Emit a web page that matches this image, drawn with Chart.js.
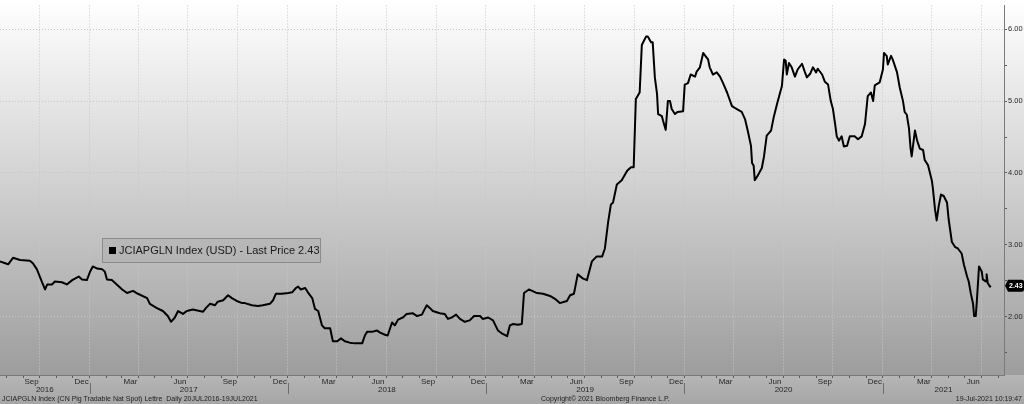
<!DOCTYPE html>
<html>
<head>
<meta charset="utf-8">
<script src="https://cdn.jsdelivr.net/npm/chart.js@4.4.1/dist/chart.umd.min.js"></script>
<style>
  html, body { margin: 0; padding: 0; background: #a8a8a8; }
  #wrap { position: relative; width: 1024px; height: 404px; overflow: hidden; font-family: 'Liberation Sans', Arial, sans-serif; }
  #chart { position: absolute; left: 0; top: 0; }
  .legend-box {
    position: absolute; left: 102px; top: 238px; width: 219px; height: 25px;
    box-sizing: border-box; border: 1px solid #8c8c8c; background: rgba(170, 170, 170, 0.45);
    font-size: 11px; line-height: 23px; color: #1a1a1a; padding-left: 6px; white-space: nowrap;
  }
  .legend-box .sw { display: inline-block; width: 7px; height: 7px; background: #000; margin-right: 3px; }
  .foot { position: absolute; top: 394px; font-size: 7px; line-height: 10px; color: #1e1e1e; white-space: nowrap; }
</style>
</head>
<body>
<div id="wrap">
  <canvas id="chart" width="1024" height="404"></canvas>
  <div class="legend-box"><span class="sw"></span>JCIAPGLN Index (USD) - Last Price 2.43</div>
  <div class="foot" style="left:2px">JCIAPGLN Index (CN Pig Tradable Nat Spot) Lettre&nbsp; Daily 20JUL2016-19JUL2021</div>
  <div class="foot" style="left:541px">Copyright© 2021 Bloomberg Finance L.P.</div>
  <div class="foot" style="right:2px">19-Jul-2021 10:19:47</div>
</div>
<script>
// JCIAPGLN price, USD
const dates = [
  '2016-07-20','2016-08-04','2016-08-13','2016-08-26','2016-09-13','2016-09-19','2016-09-26','2016-10-05','2016-10-11','2016-10-15',
  '2016-10-24','2016-10-29','2016-11-11','2016-11-20','2016-11-30','2016-12-05','2016-12-12','2016-12-18','2016-12-27',
  '2017-01-02','2017-01-07','2017-01-15','2017-01-24','2017-01-29','2017-02-02','2017-02-11','2017-02-20','2017-03-02','2017-03-11',
  '2017-03-22','2017-03-31','2017-04-17','2017-04-22','2017-05-05','2017-05-16','2017-05-25','2017-05-31','2017-06-07','2017-06-13',
  '2017-06-22','2017-06-29','2017-07-10','2017-07-29','2017-08-03','2017-08-11','2017-08-20','2017-08-25','2017-09-04','2017-09-13',
  '2017-09-20','2017-09-29','2017-10-09','2017-10-14','2017-10-27','2017-11-07','2017-11-16','2017-11-29','2017-12-05','2017-12-10','2017-12-21',
  '2018-01-02','2018-01-09','2018-01-16','2018-01-20','2018-01-25','2018-02-02','2018-02-07','2018-02-15','2018-02-20','2018-02-26',
  '2018-03-05','2018-03-10','2018-03-20','2018-03-25','2018-04-02','2018-04-09','2018-04-16','2018-04-25','2018-05-05','2018-05-18',
  '2018-05-23','2018-05-27','2018-06-05','2018-06-14','2018-06-20','2018-06-29','2018-07-04','2018-07-12','2018-07-17','2018-07-23',
  '2018-08-01','2018-08-08','2018-08-19','2018-08-27','2018-09-05','2018-09-11','2018-09-14','2018-09-20','2018-09-25','2018-10-08',
  '2018-10-17','2018-10-23','2018-10-30','2018-11-07','2018-11-14','2018-11-23','2018-12-02','2018-12-10','2018-12-21','2018-12-26',
  '2019-01-05','2019-01-14','2019-01-23','2019-01-30','2019-02-09','2019-02-14','2019-02-20','2019-03-01','2019-03-08','2019-03-12',
  '2019-03-21','2019-04-05','2019-04-16','2019-04-29','2019-05-08','2019-05-17','2019-05-30','2019-06-05','2019-06-12','2019-06-19',
  '2019-06-29','2019-07-06','2019-07-15','2019-07-24','2019-08-03','2019-08-08','2019-08-14','2019-08-19','2019-08-23','2019-08-30',
  '2019-09-08','2019-09-18','2019-09-25','2019-09-30','2019-10-04','2019-10-11','2019-10-15','2019-10-23','2019-10-26','2019-11-01',
  '2019-11-04','2019-11-08','2019-11-12','2019-11-14','2019-11-21','2019-11-23','2019-11-28','2019-12-02','2019-12-06','2019-12-09',
  '2019-12-15','2019-12-20','2019-12-30',
  '2020-01-02','2020-01-08','2020-01-13','2020-01-21','2020-01-24','2020-01-30','2020-02-05','2020-02-10','2020-02-14','2020-02-17',
  '2020-02-23','2020-03-01','2020-03-07','2020-03-12','2020-03-20','2020-03-29','2020-04-07','2020-04-16','2020-04-22','2020-04-27',
  '2020-05-03','2020-05-05','2020-05-08','2020-05-10','2020-05-16','2020-05-23','2020-05-27','2020-06-01','2020-06-09','2020-06-14',
  '2020-06-20','2020-06-29','2020-07-03','2020-07-06','2020-07-08','2020-07-12','2020-07-17','2020-07-23','2020-07-28','2020-08-05',
  '2020-08-10','2020-08-14','2020-08-20','2020-08-25','2020-08-31','2020-09-03','2020-09-11','2020-09-16','2020-09-22','2020-09-27',
  '2020-10-01','2020-10-05','2020-10-08','2020-10-12','2020-10-17','2020-10-21','2020-10-27','2020-11-01','2020-11-10','2020-11-16',
  '2020-11-23','2020-11-29','2020-12-04','2020-12-10','2020-12-14','2020-12-17','2020-12-26',
  '2021-01-01','2021-01-03','2021-01-08','2021-01-10','2021-01-16','2021-01-19','2021-01-27','2021-02-01','2021-02-07','2021-02-10',
  '2021-02-14','2021-02-18','2021-02-21','2021-02-23','2021-03-01','2021-03-05','2021-03-10','2021-03-16','2021-03-19','2021-03-25',
  '2021-04-01','2021-04-03','2021-04-07','2021-04-10','2021-04-14','2021-04-18','2021-04-23','2021-04-29','2021-05-02','2021-05-08',
  '2021-05-14','2021-05-19','2021-05-26','2021-05-30','2021-06-05','2021-06-08','2021-06-12','2021-06-16','2021-06-18','2021-06-21',
  '2021-06-23','2021-06-27','2021-07-02','2021-07-04','2021-07-10','2021-07-11','2021-07-13','2021-07-17','2021-07-19'
];
const prices = [
  2.77,2.73,2.82,2.79,2.78,2.74,2.66,2.49,2.38,2.45,
  2.45,2.49,2.48,2.45,2.51,2.53,2.56,2.52,2.51,
  2.63,2.70,2.67,2.66,2.63,2.52,2.51,2.45,2.38,2.33,
  2.36,2.32,2.26,2.18,2.12,2.08,2.01,1.93,1.99,2.08,
  2.04,2.08,2.10,2.07,2.12,2.18,2.16,2.21,2.23,2.30,
  2.26,2.22,2.19,2.19,2.16,2.15,2.16,2.18,2.23,2.32,2.32,
  2.33,2.34,2.40,2.42,2.38,2.40,2.34,2.26,2.11,2.08,
  1.88,1.84,1.84,1.66,1.66,1.70,1.66,1.64,1.63,1.63,
  1.74,1.79,1.79,1.81,1.78,1.75,1.74,1.92,1.88,1.96,
  1.99,2.04,2.05,2.01,2.03,2.12,2.16,2.12,2.08,2.05,
  2.04,1.97,1.99,2.03,1.97,1.93,1.95,2.01,2.01,1.97,
  1.99,1.95,1.81,1.77,1.73,1.88,1.90,1.89,1.90,2.33,
  2.38,2.33,2.32,2.29,2.25,2.19,2.22,2.30,2.32,2.59,
  2.53,2.51,2.77,2.84,2.84,2.95,3.32,3.56,3.59,3.84,
  3.90,4.03,4.08,4.08,5.03,5.12,5.78,5.90,5.90,5.82,
  5.82,5.33,5.10,4.82,4.79,4.73,4.60,5.00,5.00,4.89,
  4.82,4.85,4.86,
  5.23,5.25,5.37,5.34,5.41,5.47,5.67,5.62,5.58,5.47,
  5.37,5.40,5.34,5.26,5.12,4.93,4.89,4.85,4.75,4.59,
  4.38,4.14,4.10,3.90,3.97,4.07,4.23,4.52,4.59,4.78,
  4.96,5.21,5.58,5.56,5.37,5.53,5.47,5.34,5.44,5.52,
  5.41,5.33,5.38,5.47,5.40,5.45,5.37,5.27,5.23,5.00,
  4.89,4.68,4.51,4.45,4.51,4.37,4.38,4.51,4.51,4.47,
  4.51,4.68,5.07,5.12,5.00,5.22,5.26,
  5.44,5.67,5.63,5.51,5.63,5.58,5.40,5.19,5.00,4.85,
  4.81,4.62,4.34,4.23,4.59,4.45,4.34,4.32,4.18,4.11,
  3.90,3.79,3.49,3.34,3.55,3.70,3.68,3.59,3.36,3.04,
  2.97,2.95,2.88,2.73,2.56,2.49,2.32,2.18,2.01,2.01,
  2.22,2.70,2.63,2.52,2.49,2.59,2.47,2.42,2.43
];
const lastPrice = 2.43;
const monthNames = ['Jan','Feb','Mar','Apr','May','Jun','Jul','Aug','Sep','Oct','Nov','Dec'];
const yearLabels = ['2016','2017','2018','2019','2020','2021'];
const yTicks = [1.5, 2, 2.5, 3, 3.5, 4, 4.5, 5, 5.5, 6];
const axisStart = '2016-07-20';
const axisEnd = '2021-08-12';

const DAY = 86400000;
const toDay = s => Date.UTC(+s.slice(0, 4), +s.slice(5, 7) - 1, +s.slice(8, 10)) / DAY;
const xMin = toDay(axisStart);
const xMax = toDay(axisEnd);

// month starts for the tick marks, quarter starts carry the grid + label
const monthTicks = [];
for (let y = 2016, m = 7; y < 2021 || m <= 7; m++) {
  if (m > 11) { m = 0; y++; }
  monthTicks.push({ value: Date.UTC(y, m, 1) / DAY, month: m });
}
const isQuarter = v => new Date(v * DAY).getUTCMonth() % 3 === 0;

const yearStarts = yearLabels.slice(1).map(y => Date.UTC(+y, 0, 1) / DAY);
const yearBounds = [xMin, ...yearStarts, xMax];
const yearMids = yearLabels.map((_, i) => (yearBounds[i] + yearBounds[i + 1]) / 2);

Chart.defaults.font.family = "'Liberation Sans', Arial, sans-serif";

const gridCol = '#c6c6c6';

const background = {
  id: 'background',
  beforeDraw(chart) {
    const { ctx, width, height, chartArea } = chart;
    ctx.save();
    let g = ctx.createLinearGradient(0, 0, 0, chartArea.bottom);
    g.addColorStop(0, '#ffffff');
    g.addColorStop(0.5, '#d0d0d0');
    g.addColorStop(1, '#9d9d9d');
    ctx.fillStyle = g;
    ctx.fillRect(0, 0, width, chartArea.bottom);
    g = ctx.createLinearGradient(0, chartArea.bottom, 0, height);
    g.addColorStop(0, '#b6b6b6');
    g.addColorStop(1, '#a6a6a6');
    ctx.fillStyle = g;
    ctx.fillRect(0, chartArea.bottom, width, height - chartArea.bottom);
    ctx.restore();
  }
};

const yearSeparators = {
  id: 'yearSeparators',
  afterDraw(chart) {
    const s = chart.scales.xYear;
    const ctx = chart.ctx;
    ctx.save();
    ctx.strokeStyle = '#6e6e6e';
    ctx.lineWidth = 1;
    yearStarts.forEach(v => {
      const px = Math.round(s.getPixelForValue(v)) + 0.5;
      ctx.beginPath();
      ctx.moveTo(px, s.top - 3);
      ctx.lineTo(px, s.bottom);
      ctx.stroke();
    });
    ctx.restore();
  }
};

const lastPriceTag = {
  id: 'lastPriceTag',
  afterDraw(chart) {
    const { ctx, chartArea } = chart;
    const y = chart.scales.y.getPixelForValue(lastPrice);
    const x = chartArea.right;
    ctx.save();
    ctx.fillStyle = '#000';
    ctx.beginPath();
    ctx.moveTo(x + 1, y);
    ctx.lineTo(x + 4, y - 6);
    ctx.lineTo(x + 18, y - 6);
    ctx.quadraticCurveTo(x + 20, y - 6, x + 20, y - 4);
    ctx.lineTo(x + 20, y + 4);
    ctx.quadraticCurveTo(x + 20, y + 6, x + 18, y + 6);
    ctx.lineTo(x + 4, y + 6);
    ctx.closePath();
    ctx.fill();
    ctx.fillStyle = '#fff';
    ctx.font = "bold 7px 'Liberation Sans', Arial, sans-serif";
    ctx.textBaseline = 'middle';
    ctx.fillText(lastPrice.toFixed(2), x + 5, y + 0.5);
    ctx.restore();
  }
};

new Chart(document.getElementById('chart'), {
  type: 'line',
  data: {
    datasets: [{
      label: 'JCIAPGLN Index (USD) - Last Price',
      data: dates.map((d, i) => ({ x: toDay(d), y: prices[i] })),
      borderColor: '#000',
      borderWidth: 2,
      pointRadius: 0,
      tension: 0,
      fill: false,
      borderJoinStyle: 'round'
    }]
  },
  options: {
    responsive: false,
    animation: false,
    layout: { padding: { left: 0, right: 0, top: 0, bottom: 10 } },
    plugins: { legend: { display: false }, tooltip: { enabled: false } },
    scales: {
      x: {
        type: 'linear', position: 'bottom', weight: 0, min: xMin, max: xMax,
        afterBuildTicks: s => { s.ticks = monthTicks.map(t => ({ value: t.value })); },
        ticks: {
          autoSkip: false, maxRotation: 0, labelOffset: -8, padding: 0,
          font: { size: 8, lineHeight: 1 }, color: '#262626',
          callback: v => isQuarter(v) ? monthNames[(new Date(v * DAY).getUTCMonth() + 11) % 12] : ''
        },
        grid: {
          color: c => (c.tick && isQuarter(c.tick.value)) ? gridCol : 'transparent',
          tickColor: '#5a5a5a', tickLength: 3, lineWidth: 1
        },
        border: { color: '#7a7a7a', dash: [1, 2] }
      },
      xYear: {
        type: 'linear', position: 'bottom', weight: 1, min: xMin, max: xMax,
        afterBuildTicks: s => { s.ticks = yearMids.map(v => ({ value: v })); },
        ticks: {
          autoSkip: false, maxRotation: 0, padding: 0,
          font: { size: 8, lineHeight: 1 }, color: '#262626',
          callback: (v, i) => yearLabels[i]
        },
        grid: { display: false, drawTicks: false },
        border: { display: false }
      },
      y: {
        position: 'right', min: 1.19, max: 6.33,
        afterBuildTicks: s => { s.ticks = yTicks.map(v => ({ value: v })); },
        afterFit: s => { s.width = 20; },
        ticks: {
          padding: 1, font: { size: 7.5 }, color: '#262626',
          callback: v => Number.isInteger(v) ? v.toFixed(2) : ''
        },
        grid: {
          color: c => (c.tick && Number.isInteger(c.tick.value)) ? gridCol : 'transparent',
          tickColor: '#5a5a5a', tickLength: 3
        },
        border: { color: '#7a7a7a', dash: [1, 2] }
      }
    }
  },
  plugins: [background, yearSeparators, lastPriceTag]
});
</script>
</body>
</html>
